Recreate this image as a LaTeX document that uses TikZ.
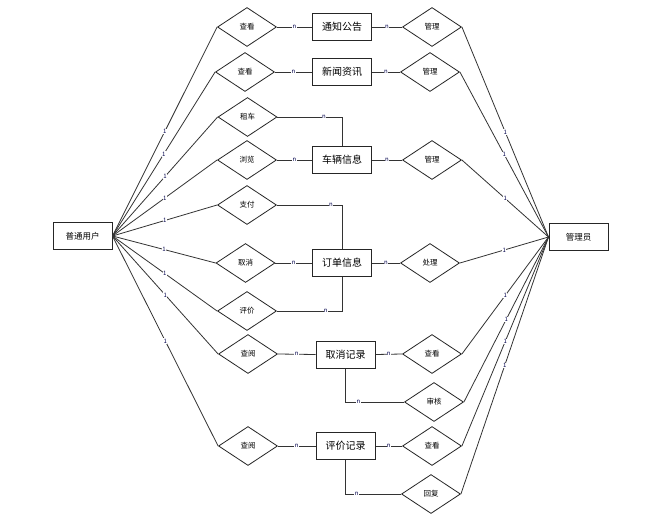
\documentclass[tikz,border=0pt]{standalone}
\usepackage{fontspec}
\setmainfont{Noto Sans CJK SC}
\usetikzlibrary{shapes.geometric}
\begin{document}
\begin{tikzpicture}[x=1pt,y=-1pt,
  ent/.style={draw=black!85, line width=1pt, minimum width=59pt, minimum height=27pt, inner sep=0pt, font=\fontsize{10}{10}\selectfont},
  actor/.style={ent, font=\fontsize{8.5}{8.5}\selectfont},
  rel/.style={diamond, draw=black!85, line width=0.8pt, minimum width=59pt, minimum height=39pt, inner sep=0pt, font=\fontsize{7.5}{7.5}\selectfont},
  lab/.style={fill=white, inner sep=0.4pt, text=black!70!blue, font=\fontsize{6}{6}\selectfont},
  con/.style={draw=black!80, line width=0.8pt}]
\useasboundingbox[fill=white] (0,0) rectangle (660,524);
% actors
\node[actor] (u) at (82.5,236) {普通用户};
\node[actor] (a) at (578.5,237) {管理员};
% entities
\node[ent] (e1) at (342,27) {通知公告};
\node[ent] (e2) at (342,72) {新闻资讯};
\node[ent] (e3) at (342,160) {车辆信息};
\node[ent] (e4) at (342,263) {订单信息};
\node[ent] (e5) at (345.5,354.5) {取消记录};
\node[ent] (e6) at (345.5,446) {评价记录};
% left relations
\node[rel] (d1) at (247,27) {查看};
\node[rel] (d2) at (245,72) {查看};
\node[rel] (d3) at (247.5,117) {租车};
\node[rel] (d4) at (247,160) {浏览};
\node[rel] (d5) at (247,205) {支付};
\node[rel] (d6) at (245.5,263) {取消};
\node[rel] (d7) at (247,311) {评价};
\node[rel] (d8) at (248,354) {查阅};
\node[rel] (d9) at (248,446) {查阅};
% right relations
\node[rel] (r1) at (432,27) {管理};
\node[rel] (r2) at (430,72) {管理};
\node[rel] (r3) at (432,160) {管理};
\node[rel] (r4) at (430,263) {处理};
\node[rel] (r5) at (432,354) {查看};
\node[rel] (r6) at (434,402) {审核};
\node[rel] (r7) at (432,446) {查看};
\node[rel] (r8) at (431,494) {回复};
% user connectors
\foreach \d in {d1,d2,d3,d4,d5,d6,d7,d8,d9}
  \draw[con] (u.east) -- node[lab]{1} (\d.west);
% admin connectors
\foreach \r in {r1,r2,r3,r4,r5,r6,r7,r8}
  \draw[con] (a.west) -- node[lab]{1} (\r.east);
% straight n connectors
\draw[con] (d1.east) -- node[lab]{n} (e1.west);
\draw[con] (e1.east) -- node[lab]{n} (r1.west);
\draw[con] (d2.east) -- node[lab]{n} (e2.west);
\draw[con] (e2.east) -- node[lab]{n} (r2.west);
\draw[con] (d4.east) -- node[lab]{n} (e3.west);
\draw[con] (e3.east) -- node[lab]{n} (r3.west);
\draw[con] (d6.east) -- node[lab]{n} (e4.west);
\draw[con] (e4.east) -- node[lab]{n} (r4.west);
\draw[con] (d8.east) -- node[lab]{n} (e5.west);
\draw[con] (e5.east) -- node[lab]{n} (r5.west);
\draw[con] (d9.east) -- node[lab]{n} (e6.west);
\draw[con] (e6.east) -- node[lab]{n} (r7.west);
% elbow connectors
\draw[con] (d3.east) -- node[lab,pos=0.72]{n} (d3.east -| e3.north) -- (e3.north);
\draw[con] (d5.east) -- node[lab,pos=0.83]{n} (d5.east -| e4.north) -- (e4.north);
\draw[con] (e4.south) -- (e4.south |- d7.east) -- node[lab,pos=0.25]{n} (d7.east);
\draw[con] (e5.south) -- (e5.south |- r6.west) -- node[lab,pos=0.22]{n} (r6.west);
\draw[con] (e6.south) -- (e6.south |- r8.west) -- node[lab,pos=0.2]{n} (r8.west);
\end{tikzpicture}
\end{document}
